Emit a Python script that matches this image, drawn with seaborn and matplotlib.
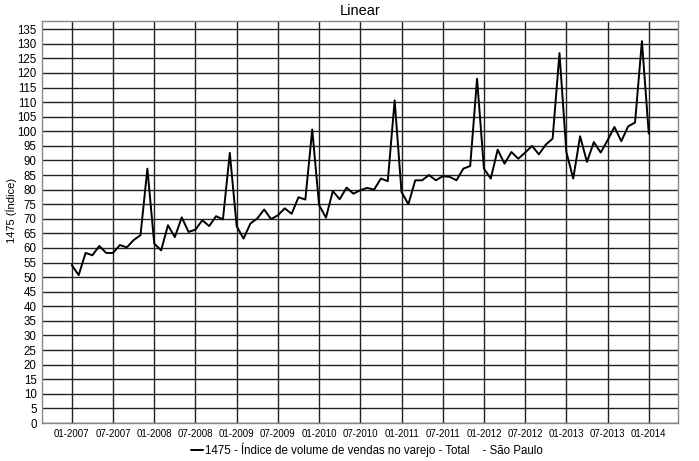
import matplotlib
matplotlib.use("Agg")
import matplotlib.pyplot as plt
import seaborn as sns
import pandas as pd
import numpy as np

# Monthly values, 01-2007 .. 01-2014
v2007 = [54.1, 50.7, 58.3, 57.5, 60.7, 58.3, 58.3, 61.0, 60.2, 62.7, 64.4, 87.2]
v2008 = [61.5, 59.2, 67.8, 63.7, 70.5, 65.5, 66.3, 69.5, 67.5, 70.9, 69.8, 92.6]
v2009 = [67.5, 63.2, 68.4, 70.1, 73.2, 69.9, 71.2, 73.6, 71.7, 77.4, 76.6, 100.6]
v2010 = [74.7, 70.4, 79.5, 76.7, 80.7, 78.6, 79.8, 80.6, 80.0, 83.8, 82.9, 110.6]
v2011 = [79.2, 75.0, 83.2, 83.2, 85.0, 83.2, 84.6, 84.4, 83.2, 87.2, 88.1, 118.0]
v2012 = [87.2, 83.8, 93.7, 88.9, 92.9, 90.6, 92.7, 95.0, 92.1, 95.4, 97.5, 126.8]
v2013 = [92.9, 83.8, 98.3, 89.5, 96.3, 92.7, 96.9, 101.5, 96.6, 101.7, 103.0, 130.9]
v2014 = [99.2]

tick_labels = ["01-2007", "07-2007", "01-2008", "07-2008", "01-2009", "07-2009",
               "01-2010", "07-2010", "01-2011", "07-2011", "01-2012", "07-2012",
               "01-2013", "07-2013", "01-2014"]

values = v2007 + v2008 + v2009 + v2010 + v2011 + v2012 + v2013 + v2014
df = pd.DataFrame({"month": np.arange(len(values)), "value": values})

sns.set_theme(style="white")
plt.rcParams["font.family"] = ["Liberation Sans", "DejaVu Sans"]
plt.rcParams["text.color"] = "black"
plt.rcParams["axes.labelcolor"] = "black"
plt.rcParams["xtick.color"] = "black"
plt.rcParams["ytick.color"] = "black"

fig = plt.figure(figsize=(6.99, 4.61), dpi=100)
ax = fig.add_axes([0.0605, 0.0824, 0.9099, 0.872])

label = "1475 - Índice de volume de vendas no varejo - Total    - São Paulo"
sns.lineplot(data=df, x="month", y="value", ax=ax, color="black", linewidth=1.4,
             label=label, legend=False)

ax.set_xlim(-4.3, 88.3)
ax.set_ylim(0, 137.8)
ax.set_yticks(np.arange(0, 136, 5))
ax.set_xticks(np.arange(0, 85, 6))
ax.set_xticklabels(tick_labels)
ax.tick_params(axis="y", labelsize=8.3, length=3, width=0.8, color="#555", pad=1)
ax.tick_params(axis="x", labelsize=7, length=0, pad=4)
ax.grid(True, color="#222", linewidth=1.0)
ax.set_axisbelow(True)
for s in ax.spines.values():
    s.set_color("#888")
    s.set_linewidth(1.0)

ax.set_xlabel("")
ax.set_ylabel("1475 (Índice)", fontsize=8)
ax.yaxis.set_label_coords(-0.039, 0.53)
ax.set_title("Linear", fontsize=10.5, pad=4)

handles, labels = ax.get_legend_handles_labels()
fig.legend(handles, labels, loc="center", bbox_to_anchor=(0.525, 0.024), frameon=False,
           fontsize=8.3, handlelength=1.0, handletextpad=0.2)

fig.savefig("out.png", dpi=100)
